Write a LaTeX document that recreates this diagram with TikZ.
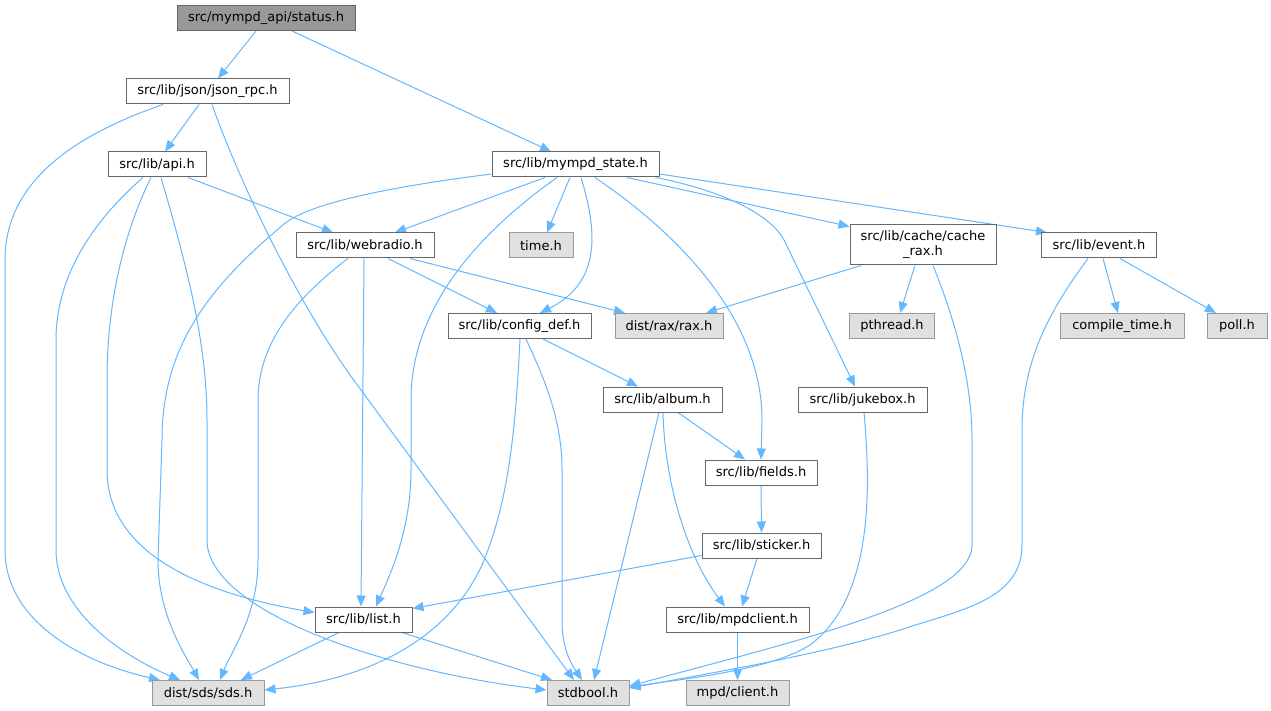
\documentclass[tikz,border=0pt]{standalone}
\usepackage{fontspec}
\newfontfamily\dv{DejaVu Sans}
\usetikzlibrary{arrows.meta}
\definecolor{edgeblue}{HTML}{63B8FF}
\definecolor{bordergray}{HTML}{666666}
\definecolor{graybord}{HTML}{999999}
\definecolor{grayfill}{HTML}{E0E0E0}
\definecolor{rootfill}{HTML}{999999}
\pgfdeclarelayer{bg}
\pgfsetlayers{bg,main}
\tikzset{
  nd/.style={draw=bordergray, fill=white, line width=1pt, minimum height=25pt, inner sep=0pt, text=black, font=\dv\fontsize{13}{15}\selectfont},
  gr/.style={nd, draw=graybord, fill=grayfill},
  rootnode/.style={nd, draw=bordergray, fill=rootfill},
  ed/.style={draw=edgeblue, line width=1pt, -{Triangle[length=11pt,width=9pt]}},
}
\begin{document}
\begin{tikzpicture}[x=1pt,y=-1pt]
\useasboundingbox (0,0) rectangle (1271,711);
% nodes
\node[rootnode, minimum width=178pt] (status) at (266,18) {src/mympd\_api/status.h};
\node[nd, minimum width=163pt] (json) at (207.5,91.5) {src/lib/json/json\_rpc.h};
\node[nd, minimum width=98pt] (api) at (157,164.5) {src/lib/api.h};
\node[nd, minimum width=167pt] (mympd) at (575.5,164.5) {src/lib/mympd\_state.h};
\node[nd, minimum width=138pt] (webradio) at (365,245.5) {src/lib/webradio.h};
\node[gr, minimum width=64pt] (time) at (541,245.5) {time.h};
\node[nd, minimum width=146pt, minimum height=40pt, align=center] (cache) at (923,245) {src/lib/cache/cache\\\_rax.h};
\node[nd, minimum width=115pt] (event) at (1099,245.5) {src/lib/event.h};
\node[nd, minimum width=143pt] (config) at (519.5,326) {src/lib/config\_def.h};
\node[gr, minimum width=108pt] (rax) at (669,326) {dist/rax/rax.h};
\node[gr, minimum width=85pt] (pthread) at (892,326) {pthread.h};
\node[gr, minimum width=124pt] (compile) at (1122,326) {compile\_time.h};
\node[gr, minimum width=60pt] (poll) at (1237,326) {poll.h};
\node[nd, minimum width=119pt] (album) at (662.5,399.5) {src/lib/album.h};
\node[nd, minimum width=129pt] (jukebox) at (862.5,399.5) {src/lib/jukebox.h};
\node[nd, minimum width=112pt] (fields) at (761,472.5) {src/lib/fields.h};
\node[nd, minimum width=119pt] (sticker) at (761.5,545.5) {src/lib/sticker.h};
\node[nd, minimum width=143pt] (mpdclient) at (737.5,619.5) {src/lib/mpdclient.h};
\node[nd, minimum width=97pt] (list) at (363.5,619.5) {src/lib/list.h};
\node[gr, minimum width=112pt] (sds) at (208,693) {dist/sds/sds.h};
\node[gr, minimum width=82pt] (stdbool) at (588,693) {stdbool.h};
\node[gr, minimum width=103pt] (mpdc) at (737.5,693) {mpd/client.h};
% edges
\begin{pgfonlayer}{bg}
\fill[white] (0,0) rectangle (1271,711);
\draw[ed] ([xshift=-10pt]status.south) -- ([xshift=10.5pt]json.north);
\draw[ed] ([xshift=26pt]status.south) -- ([xshift=-24.5pt]mympd.north);
% json_rpc
\draw[ed] ([xshift=-8.5pt]json.south) -- ([xshift=8pt]api.north);
\draw[ed] ([xshift=-44.5pt]json.south) .. controls (60,140) and (5,190) .. (5,260) -- (5,550) .. controls (5,620) and (80,662) .. ([xshift=-48pt]sds.north);
\draw[ed] ([xshift=4.5pt]json.south) .. controls (235,170) and (290,290) .. (350,375) -- ([xshift=-14pt]stdbool.north);
% api
\draw[ed] ([xshift=31pt]api.south) -- ([xshift=-32pt]webradio.north);
\draw[ed] ([xshift=-14pt]api.south) .. controls (100,215) and (56,270) .. (56,340) -- (56,550) .. controls (56,610) and (120,655) .. ([xshift=-28pt]sds.north);
\draw[ed] ([xshift=-6pt]api.south) .. controls (125,230) and (107,300) .. (107,380) -- (107,470) .. controls (107,565) and (230,598) .. ([yshift=7pt]list.west);
\draw[ed] ([xshift=4pt]api.south) .. controls (185,260) and (207,340) .. (207,420) -- (207,540) .. controls (207,610) and (380,670) .. ([yshift=3pt]stdbool.west);
% mympd_state
\draw[ed] ([xshift=-30.5pt]mympd.south) -- ([xshift=30pt]webradio.north);
\draw[ed] ([xshift=-5.5pt]mympd.south) -- ([xshift=6pt]time.north);
\draw[ed] ([yshift=-9.5pt]mympd.west) .. controls (380,188) and (305,205) .. (283,225) .. controls (205,290) and (162,350) .. (162,440) -- (158,560) .. controls (158,615) and (185,655) .. ([xshift=-9pt]sds.north);
\draw[ed] ([xshift=-18.5pt]mympd.south) .. controls (490,225) and (411,300) .. (411,400) -- (411,470) .. controls (411,530) and (390,575) .. ([xshift=12.5pt]list.north);
\draw[ed] ([xshift=5.5pt]mympd.south) .. controls (597,230) and (602,282) .. ([xshift=20.5pt]config.north);
\draw[ed] ([xshift=19.5pt]mympd.south) .. controls (680,235) and (762,320) .. (762,420) -- (fields.north);
\draw[ed] ([xshift=-4pt]mympd.south east) .. controls (720,190) and (772,214) .. (785,242) -- ([xshift=-7.5pt]jukebox.north);
\draw[ed] ([xshift=51.5pt]mympd.south) -- ([yshift=-2pt]cache.north west);
\draw[ed] ([yshift=-9.5pt]mympd.east) -- ([xshift=6pt]event.north west);
% webradio
\draw[ed] ([xshift=-17pt]webradio.south) .. controls (300,295) and (258,340) .. (258,400) -- (258,560) .. controls (258,615) and (232,650) .. ([xshift=12pt]sds.north);
\draw[ed] ([xshift=-1pt]webradio.south) -- ([xshift=-2.5pt]list.north);
\draw[ed] ([xshift=23pt]webradio.south) -- ([xshift=-22.5pt]config.north);
\draw[ed] ([xshift=45pt]webradio.south) -- ([xshift=-44pt]rax.north);
% cache
\draw[ed] ([xshift=-62pt]cache.south) -- ([xshift=37pt]rax.north);
\draw[ed] ([xshift=-8pt]cache.south) -- ([xshift=8pt]pthread.north);
\draw[ed] ([xshift=10pt]cache.south) .. controls (955,320) and (972,380) .. (972,440) -- (972,545) .. controls (972,600) and (800,640) .. ([yshift=7pt]stdbool.east);
% event
\draw[ed] ([xshift=4pt]event.south) -- ([xshift=-4pt]compile.north);
\draw[ed] ([xshift=21pt]event.south) -- ([xshift=-21pt]poll.north);
\draw[ed] ([xshift=-11pt]event.south) .. controls (1050,310) and (1022,360) .. (1022,430) -- (1022,545) .. controls (1022,600) and (960,610) .. (900,630) .. controls (820,655) and (700,675) .. ([yshift=5pt]stdbool.east);
% config_def
\draw[ed] ([xshift=23.5pt]config.south) -- ([xshift=-24.5pt]album.north);
\draw[ed] ([xshift=0.5pt]config.south) .. controls (516,420) and (510,500) .. (482,565) .. controls (445,645) and (360,680) .. ([yshift=3pt]sds.east);
\draw[ed] ([xshift=6.5pt]config.south) .. controls (545,380) and (562,420) .. (562,470) -- (562,620) .. controls (562,650) and (572,665) .. ([xshift=-6pt]stdbool.north);
% album
\draw[ed] ([xshift=15.5pt]album.south) -- ([xshift=-16pt]fields.north);
\draw[ed] ([xshift=-3.5pt]album.south) -- ([xshift=6pt]stdbool.north);
\draw[ed] ([xshift=0.5pt]album.south) .. controls (665,490) and (690,560) .. ([xshift=-12.5pt]mpdclient.north);
% jukebox
\draw[ed] ([xshift=1.5pt]jukebox.south) .. controls (872,500) and (870,600) .. (810,645) .. controls (770,670) and (690,678) .. ([yshift=6pt]stdbool.east);
% fields, sticker, mpdclient
\draw[ed] (fields.south) -- (sticker.north);
\draw[ed] ([yshift=-10pt]sticker.west) -- ([yshift=-2pt]list.north east);
\draw[ed] ([xshift=-4.5pt]sticker.south) -- ([xshift=4.5pt]mpdclient.north);
\draw[ed] (mpdclient.south) -- (mpdc.north);
% list
\draw[ed] ([xshift=-24.5pt]list.south) -- ([xshift=33pt]sds.north);
\draw[ed] ([xshift=38.5pt]list.south) -- ([xshift=-36pt]stdbool.north);
\end{pgfonlayer}
\end{tikzpicture}
\end{document}
